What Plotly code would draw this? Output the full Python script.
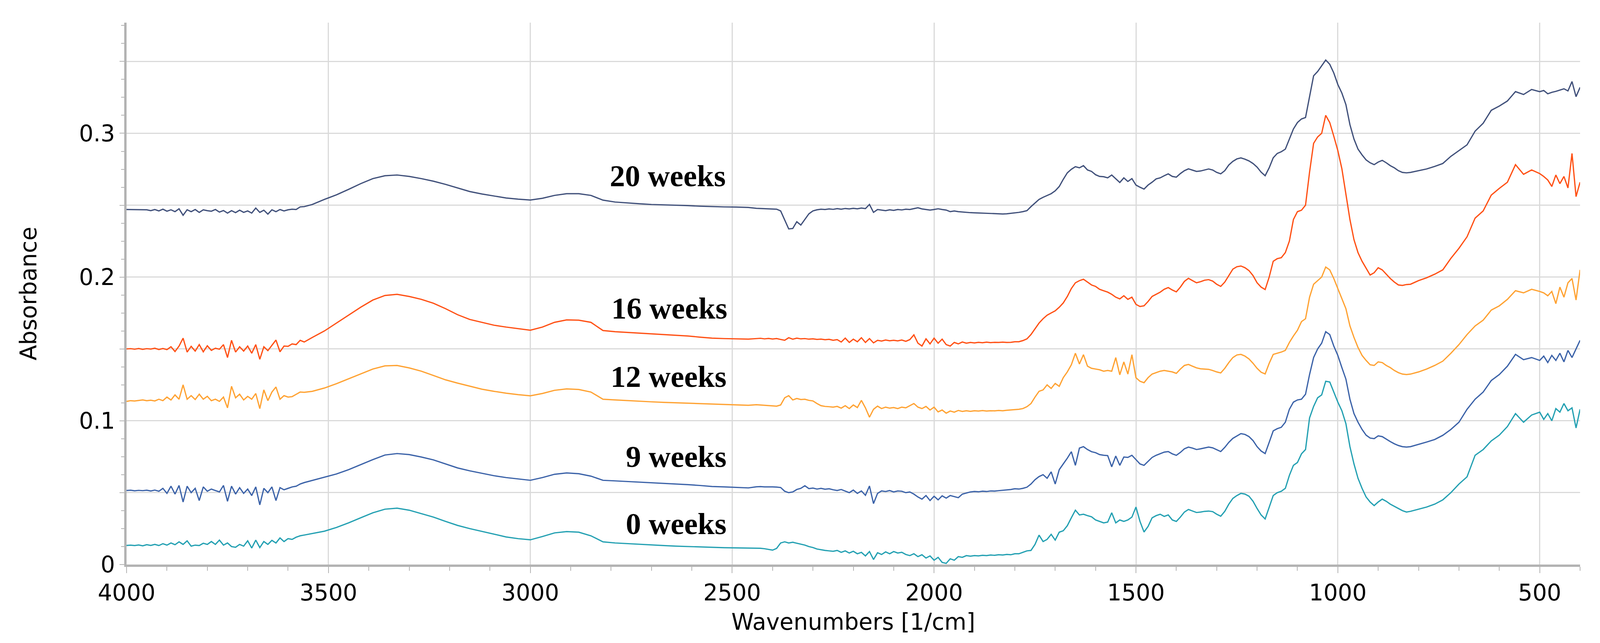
import plotly.graph_objects as go

# ---------------- wavenumber sampling grid [1/cm] ----------------
WN_A = [4000, 3990, 3980, 3970, 3960, 3950, 3940, 3930, 3920, 3910,
        3900, 3890, 3880, 3870, 3860, 3850, 3840, 3830, 3820, 3810,
        3800, 3790, 3780, 3770, 3760, 3750, 3740, 3730, 3720, 3710,
        3700, 3690, 3680, 3670, 3660, 3650, 3640, 3630, 3620, 3610,
        3600, 3590, 3580, 3570, 3560]
WN_B = [3540, 3510, 3480, 3450, 3420, 3390, 3360, 3330, 3300, 3270,
        3240, 3210, 3180, 3150, 3120, 3090, 3060, 3030, 3000, 2970,
        2940, 2910, 2880, 2850, 2820, 2790, 2760, 2730, 2700, 2670,
        2640, 2610, 2580, 2550, 2520, 2490, 2460]
WN_C = [2440, 2430, 2420, 2410, 2400, 2390, 2380, 2370, 2360, 2350,
        2340, 2330, 2320, 2310, 2300, 2290, 2280, 2270, 2260, 2250,
        2240, 2230, 2220, 2210, 2200, 2190, 2180, 2170, 2160, 2150,
        2140, 2130, 2120, 2110, 2100, 2090, 2080, 2070, 2060, 2050,
        2040, 2030, 2020, 2010, 2000, 1990, 1980, 1970, 1960, 1950,
        1940, 1930, 1920, 1910, 1900, 1890, 1880, 1870, 1860, 1850,
        1840, 1830, 1820, 1810, 1800]
WN_D = [1790, 1780, 1770, 1760, 1750, 1740, 1730, 1720, 1710, 1700,
        1690, 1680, 1670, 1660, 1650, 1640, 1630, 1620, 1610, 1600,
        1590, 1580, 1570, 1560, 1550, 1540, 1530, 1520, 1510, 1500,
        1490, 1480, 1470, 1460, 1450, 1440, 1430, 1420, 1410, 1400,
        1390, 1380, 1370, 1360, 1350, 1340, 1330, 1320, 1310, 1300,
        1290, 1280, 1270, 1260, 1250, 1240, 1230, 1220, 1210, 1200,
        1190, 1180, 1170, 1160, 1150, 1140, 1130, 1120, 1110, 1100]
WN_E = [1090, 1080, 1070, 1060, 1050, 1040, 1030, 1020, 1010, 1000,
        990, 980, 970, 960, 950, 940, 930, 920, 910, 900,
        890, 880, 870, 860, 850, 840, 830, 820,
        800, 780, 760, 740, 720, 700, 680, 660, 640, 620, 600, 580, 560, 540, 520,
        500, 490, 480, 470, 460, 450, 440, 430, 420, 410, 400]
WAVENUMBERS = WN_A + WN_B + WN_C + WN_D + WN_E

# ---------------- absorbance series ----------------
WEEKS_20 = [
    # 4000-3560
    .2470, .2470, .2470, .2470, .2470, .2468, .2462, .2470, .2460, .2472,
    .2458, .2468, .2455, .2475, .2430, .2468, .2455, .2470, .2450, .2468,
    .2462, .2458, .2470, .2452, .2463, .2445, .2462, .2448, .2465, .2450,
    .2460, .2445, .2480, .2450, .2465, .2438, .2468, .2455, .2470, .2460,
    .2468, .2472, .2470, .2488, .2490,
    # 3540-2460
    .2505, .2540, .2572, .2610, .2650, .2685, .2705, .2710, .2700, .2685,
    .2667, .2645, .2620, .2595, .2578, .2565, .2550, .2542, .2536, .2548,
    .2568, .2580, .2580, .2568, .2535, .2522, .2515, .2510, .2505, .2503,
    .2500, .2497, .2493, .2490, .2488, .2487, .2484,
    # 2440-1800
    .2478, .2477, .2476, .2476, .2475, .2472, .2460, .2395, .2335, .2338,
    .2385, .2362, .2400, .2440, .2460, .2468, .2472, .2470, .2474, .2471,
    .2476, .2472, .2477, .2474, .2478, .2475, .2480, .2476, .2505, .2450,
    .2470, .2466, .2462, .2468, .2464, .2470, .2467, .2472, .2470, .2476,
    .2482, .2474, .2470, .2466, .2470, .2475, .2470, .2466, .2455, .2460,
    .2455, .2452, .2450, .2448, .2447, .2446, .2444, .2443, .2442, .2440,
    .2440, .2439, .2440, .2443, .2448,
    # 1790-1100
    .2450, .2455, .2462, .2490, .2515, .2540, .2555, .2568, .2580, .2600,
    .2630, .2680, .2725, .2750, .2768, .2760, .2775, .2745, .2735, .2712,
    .2700, .2698, .2690, .2710, .2685, .2658, .2690, .2665, .2685, .2640,
    .2625, .2612, .2640, .2660, .2683, .2690, .2705, .2718, .2700, .2695,
    .2720, .2740, .2753, .2745, .2735, .2738, .2745, .2752, .2745, .2728,
    .2718, .2740, .2780, .2805, .2822, .2829, .2820, .2808, .2790, .2765,
    .2730, .2705, .2760, .2830, .2860, .2872, .2890, .2960, .3030, .3075,
    # 1090-400
    .3100, .3110, .3250, .3400, .3430, .3470, .3510, .3480, .3420, .3340,
    .3280, .3200, .3060, .2960, .2890, .2850, .2815, .2795, .2782, .2800,
    .2812, .2795, .2775, .2760, .2740, .2728, .2725, .2728,
    .2740, .2752, .2770, .2790, .2840, .2880, .2920, .3015, .3070, .3160,
    .3190, .3225, .3290, .3270, .3305,
    .3290, .3298, .3275, .3285, .3292, .3300, .3310, .3295, .3360, .3255, .3320,
]

WEEKS_16 = [
    # 4000-3560
    .1500, .1502, .1498, .1503, .1497, .1502, .1499, .1505, .1496, .1503,
    .1495, .1515, .1482, .1520, .1575, .1478, .1518, .1485, .1530, .1480,
    .1522, .1490, .1505, .1498, .1530, .1440, .1560, .1478, .1515, .1485,
    .1520, .1470, .1530, .1428, .1515, .1488, .1525, .1562, .1480, .1520,
    .1518, .1535, .1530, .1560, .1548,
    # 3540-2460
    .1580, .1625, .1680, .1735, .1790, .1840, .1872, .1880, .1865, .1845,
    .1818, .1780, .1738, .1705, .1685, .1665, .1652, .1640, .1630, .1652,
    .1685, .1702, .1700, .1685, .1628, .1620, .1615, .1608, .1605, .1600,
    .1595, .1590, .1582, .1575, .1572, .1570, .1568,
    # 2440-1800
    .1572, .1574, .1570, .1573, .1569, .1572, .1566, .1560, .1578, .1568,
    .1575, .1570, .1572, .1568, .1570, .1566, .1568, .1564, .1567, .1560,
    .1565, .1548, .1575, .1545, .1568, .1550, .1578, .1545, .1572, .1542,
    .1560, .1555, .1562, .1557, .1560, .1556, .1562, .1553, .1565, .1598,
    .1540, .1520, .1570, .1535, .1575, .1540, .1568, .1530, .1520, .1545,
    .1535, .1548, .1540, .1545, .1542, .1546, .1543, .1547, .1544, .1546,
    .1545, .1547, .1545, .1546, .1550,
    # 1790-1100
    .1550, .1558, .1570, .1600, .1640, .1680, .1710, .1735, .1750, .1765,
    .1790, .1820, .1865, .1920, .1960, .1975, .1985, .1965, .1945, .1935,
    .1915, .1905, .1895, .1880, .1860, .1848, .1870, .1845, .1860, .1810,
    .1795, .1800, .1830, .1865, .1880, .1895, .1915, .1927, .1910, .1897,
    .1930, .1970, .1991, .1975, .1960, .1968, .1978, .1982, .1972, .1950,
    .1935, .1965, .2010, .2055, .2072, .2077, .2065, .2045, .2010, .1960,
    .1930, .1913, .2000, .2110, .2128, .2135, .2170, .2250, .2400, .2455,
    # 1090-400
    .2465, .2500, .2730, .2930, .2975, .3000, .3125, .3075, .2980, .2880,
    .2754, .2580, .2400, .2260, .2170, .2110, .2060, .2014, .2030, .2065,
    .2050, .2020, .1990, .1965, .1945, .1942, .1948, .1950,
    .1975, .1995, .2020, .2050, .2130, .2200, .2280, .2410, .2460, .2570,
    .2617, .2660, .2782, .2715, .2745,
    .2720, .2700, .2675, .2630, .2710, .2650, .2700, .2620, .2860, .2560, .2660,
]

WEEKS_12 = [
    # 4000-3560
    .1135, .1140, .1138, .1142, .1145, .1140, .1143, .1138, .1150, .1140,
    .1165, .1145, .1180, .1150, .1250, .1150, .1175, .1148, .1185, .1150,
    .1170, .1140, .1150, .1135, .1165, .1090, .1240, .1160, .1185, .1145,
    .1170, .1150, .1190, .1085, .1215, .1140, .1200, .1235, .1150, .1175,
    .1165, .1168, .1185, .1200, .1198,
    # 3540-2460
    .1205, .1228, .1258, .1292, .1325, .1360, .1382, .1385, .1368, .1345,
    .1315, .1285, .1262, .1240, .1220, .1205, .1192, .1182, .1174, .1190,
    .1212, .1222, .1218, .1200, .1150, .1145, .1140, .1136, .1132, .1128,
    .1125, .1122, .1119, .1116, .1113, .1110, .1108,
    # 2440-1800
    .1112, .1110, .1108, .1106, .1105, .1102, .1110, .1160, .1175, .1145,
    .1155, .1148, .1150, .1142, .1138, .1120, .1105, .1100, .1098, .1095,
    .1100, .1088, .1105, .1085, .1110, .1092, .1142, .1090, .1025, .1080,
    .1102, .1085, .1095, .1088, .1092, .1085, .1095, .1090, .1105, .1120,
    .1095, .1085, .1100, .1075, .1095, .1062, .1075, .1053, .1068, .1060,
    .1072, .1065, .1070, .1066, .1070, .1068, .1071, .1068, .1070, .1069,
    .1072, .1070, .1073, .1075, .1078,
    # 1790-1100
    .1080, .1085, .1098, .1120, .1165, .1205, .1215, .1250, .1225, .1260,
    .1240, .1300, .1340, .1390, .1470, .1395, .1460, .1380, .1365, .1360,
    .1355, .1345, .1350, .1345, .1440, .1320, .1410, .1325, .1460, .1300,
    .1275, .1265, .1300, .1325, .1335, .1345, .1350, .1345, .1340, .1330,
    .1360, .1385, .1392, .1380, .1368, .1362, .1360, .1358, .1350, .1340,
    .1333, .1365, .1405, .1440, .1458, .1462, .1450, .1430, .1400, .1365,
    .1338, .1326, .1400, .1462, .1470, .1478, .1490, .1545, .1590, .1630,
    # 1090-400
    .1690, .1710, .1860, .1950, .1975, .2000, .2070, .2050, .1990, .1920,
    .1850, .1780, .1660, .1580, .1510, .1455, .1420, .1390, .1385, .1410,
    .1405, .1385, .1370, .1350, .1335, .1325, .1322, .1325,
    .1340, .1360, .1385, .1415, .1470, .1530, .1600, .1660, .1700, .1770,
    .1800, .1845, .1905, .1890, .1915,
    .1900, .1890, .1870, .1900, .1815, .1930, .1860, .1960, .1990, .1840, .2050,
]

WEEKS_9 = [
    # 4000-3560
    .0515, .0517, .0513, .0516, .0514, .0517, .0512, .0518, .0510, .0530,
    .0495, .0545, .0490, .0550, .0435, .0545, .0500, .0530, .0445, .0540,
    .0510, .0525, .0515, .0505, .0550, .0440, .0545, .0490, .0535, .0495,
    .0525, .0480, .0540, .0415, .0530, .0500, .0540, .0445, .0535, .0520,
    .0530, .0540, .0545, .0560, .0570,
    # 3540-2460
    .0585, .0608, .0630, .0660, .0695, .0730, .0762, .0772, .0765, .0748,
    .0728, .0700, .0672, .0652, .0635, .0618, .0605, .0595, .0586, .0605,
    .0628, .0637, .0632, .0615, .0586, .0582, .0578, .0574, .0570, .0566,
    .0562, .0556, .0550, .0543, .0540, .0536, .0533,
    # 2440-1800
    .0541, .0542, .0540, .0541, .0540, .0539, .0536, .0510, .0500, .0505,
    .0522, .0530, .0548, .0528, .0532, .0525, .0530, .0524, .0527, .0520,
    .0515, .0522, .0510, .0500, .0518, .0495, .0512, .0482, .0546, .0424,
    .0495, .0512, .0508, .0515, .0505, .0512, .0510, .0500, .0505, .0490,
    .0470, .0455, .0480, .0445, .0475, .0450, .0478, .0462, .0480, .0472,
    .0465, .0490, .0498, .0505, .0508, .0506, .0510, .0508, .0512, .0511,
    .0514, .0516, .0518, .0522, .0527,
    # 1790-1100
    .0525, .0530, .0538, .0560, .0590, .0612, .0625, .0600, .0645, .0560,
    .0660, .0700, .0740, .0785, .0690, .0810, .0820, .0800, .0785, .0778,
    .0765, .0760, .0758, .0680, .0755, .0690, .0748, .0745, .0760, .0730,
    .0700, .0690, .0718, .0745, .0760, .0770, .0782, .0786, .0770, .0760,
    .0780, .0805, .0817, .0810, .0800, .0805, .0812, .0817, .0812, .0798,
    .0786, .0815, .0850, .0878, .0895, .0911, .0905, .0890, .0862, .0820,
    .0790, .0772, .0850, .0930, .0945, .0955, .0990, .1080, .1130, .1145,
    # 1090-400
    .1150, .1185, .1322, .1440, .1500, .1540, .1620, .1600, .1520, .1455,
    .1370, .1290, .1150, .1050, .0990, .0940, .0900, .0880, .0876, .0895,
    .0890, .0872, .0855, .0840, .0828, .0820, .0817, .0820,
    .0835, .0852, .0870, .0899, .0940, .0990, .1080, .1150, .1200, .1280,
    .1322, .1380, .1462, .1425, .1440,
    .1420, .1450, .1405, .1455, .1420, .1470, .1410, .1490, .1440, .1500, .1560,
]

WEEKS_0 = [
    # 4000-3560
    .0133, .0135, .0132, .0136, .0130, .0138, .0133, .0140, .0132, .0145,
    .0135, .0150, .0138, .0158, .0140, .0165, .0128, .0135, .0132, .0148,
    .0140, .0160, .0140, .0170, .0135, .0150, .0125, .0120, .0140, .0128,
    .0165, .0115, .0170, .0118, .0160, .0140, .0168, .0150, .0185, .0160,
    .0180, .0175, .0190, .0200, .0205,
    # 3540-2460
    .0215, .0232, .0258, .0290, .0325, .0360, .0385, .0392, .0378, .0355,
    .0330, .0300, .0272, .0250, .0230, .0210, .0192, .0180, .0172, .0195,
    .0220, .0229, .0225, .0200, .0158, .0150, .0145, .0140, .0136, .0132,
    .0128, .0125, .0122, .0119, .0117, .0116, .0115,
    # 2440-1800
    .0115, .0113, .0110, .0105, .0100, .0112, .0150, .0158, .0150, .0155,
    .0148, .0140, .0135, .0125, .0118, .0108, .0102, .0098, .0095, .0092,
    .0098, .0085, .0095, .0080, .0092, .0075, .0085, .0060, .0090, .0035,
    .0082, .0070, .0088, .0075, .0090, .0080, .0085, .0070, .0062, .0075,
    .0055, .0068, .0045, .0060, .0030, .0050, .0015, .0008, .0040, .0030,
    .0055, .0050, .0062, .0058, .0062, .0060, .0064, .0062, .0066, .0064,
    .0068, .0066, .0070, .0068, .0075,
    # 1790-1100
    .0075, .0085, .0095, .0098, .0140, .0205, .0160, .0175, .0210, .0170,
    .0225, .0235, .0270, .0325, .0378, .0345, .0350, .0340, .0332, .0310,
    .0300, .0290, .0295, .0360, .0290, .0310, .0300, .0310, .0330, .0400,
    .0300, .0226, .0265, .0325, .0340, .0350, .0335, .0345, .0310, .0300,
    .0330, .0365, .0383, .0372, .0362, .0365, .0370, .0372, .0368, .0350,
    .0336, .0370, .0420, .0460, .0480, .0495, .0490, .0475, .0440, .0390,
    .0345, .0317, .0400, .0480, .0500, .0510, .0530, .0620, .0690, .0710,
    # 1090-400
    .0770, .0800, .1020, .1100, .1160, .1180, .1275, .1270, .1200, .1130,
    .1070, .0980, .0820, .0700, .0600, .0530, .0470, .0435, .0410, .0435,
    .0455, .0440, .0420, .0405, .0390, .0375, .0365, .0370,
    .0385, .0400, .0420, .0450, .0500, .0560, .0610, .0760, .0800, .0860,
    .0900, .0960, .1050, .0990, .1040,
    .1060, .1010, .1050, .1000, .1085, .1060, .1120, .1070, .1090, .0950, .1080,
]

SERIES_NAMES = ["0 weeks", "9 weeks", "12 weeks", "16 weeks", "20 weeks"]
SERIES_VALUES = [WEEKS_0, WEEKS_9, WEEKS_12, WEEKS_16, WEEKS_20]
SERIES_COLORS = ["#23a0b2", "#3b62a8", "#ffa232", "#ff5014", "#40507a"]

# label anchor points (right edge of text, vertical middle)
LABEL_X = [2512, 2512, 2512, 2510, 2514]
LABEL_Y = [0.0285, 0.0752, 0.1308, 0.1783, 0.2703]

Y_TICKS = [0, 0.05, 0.1, 0.15, 0.2, 0.25, 0.3, 0.35]
Y_TICKTEXT = ["0", "", "0.1", "", "0.2", "", "0.3", ""]
X_TICKS = [4000, 3500, 3000, 2500, 2000, 1500, 1000, 500]
X_TICKTEXT = ["4000", "3500", "3000", "2500", "2000", "1500", "1000", "500"]

for v in SERIES_VALUES:
    assert len(v) == len(WAVENUMBERS), (len(v), len(WAVENUMBERS))

AXIS_FONT = "DejaVu Sans, Verdana, sans-serif"
AXIS_SIZE = 58

fig = go.Figure()
for name, vals, col in zip(SERIES_NAMES, SERIES_VALUES, SERIES_COLORS):
    fig.add_trace(go.Scatter(x=WAVENUMBERS, y=vals, mode="lines", name=name,
                             line=dict(color=col, width=3.2)))

for name, lx, ly in zip(SERIES_NAMES, LABEL_X, LABEL_Y):
    fig.add_annotation(x=lx, y=ly, xref="x", yref="y", text=name, showarrow=False,
                       xanchor="right", yanchor="middle",
                       font=dict(family="Liberation Serif, Times New Roman, serif",
                                 size=78, color="#000000", weight="bold"))

fig.update_layout(
    autosize=True,
    margin=dict(l=324, r=51, t=58, b=201),
    paper_bgcolor="white", plot_bgcolor="white",
    showlegend=False,
    font=dict(family=AXIS_FONT, size=AXIS_SIZE, color="#000000"),
)
fig.update_xaxes(
    range=[4000, 400], tickmode="array", tickvals=X_TICKS, ticktext=X_TICKTEXT,
    showline=True, linecolor="#b3b3b3", linewidth=6,
    showgrid=True, gridcolor="#dadada", gridwidth=3, zeroline=False,
    ticks="outside", ticklen=16, tickwidth=2, tickcolor="#b3b3b3",
    minor=dict(tickmode="linear", tick0=0, dtick=100, ticks="outside", ticklen=10,
               tickwidth=2, tickcolor="#b3b3b3", showgrid=False),
    tickfont=dict(family=AXIS_FONT, size=AXIS_SIZE),
    title=dict(text="Wavenumbers [1/cm]", font=dict(family=AXIS_FONT, size=AXIS_SIZE), standoff=24),
)
fig.update_yaxes(
    range=[0, 0.377], tickmode="array", tickvals=Y_TICKS, ticktext=Y_TICKTEXT,
    showline=True, linecolor="#b3b3b3", linewidth=6,
    showgrid=True, gridcolor="#dadada", gridwidth=3, zeroline=False,
    ticks="outside", ticklen=12, tickwidth=2, tickcolor="#b3b3b3",
    minor=dict(tickmode="linear", tick0=0, dtick=0.0125, ticks="outside", ticklen=8,
               tickwidth=2, tickcolor="#b3b3b3", showgrid=False),
    tickfont=dict(family=AXIS_FONT, size=AXIS_SIZE),
    title=dict(text="Absorbance", font=dict(family=AXIS_FONT, size=AXIS_SIZE), standoff=92),
)

POST = ("document.documentElement.style.margin='0';"
        "document.body.style.margin='0';"
        "document.documentElement.style.overflow='hidden';"
        "document.body.style.overflow='hidden';"
        "var gd=document.getElementById('{plot_id}');"
        "gd.style.width='100vw';gd.style.height='100vh';"
        "Plotly.Plots.resize(gd);")

fig.write_html("out.html", default_width="100vw", default_height="100vh",
               config={"responsive": True, "displayModeBar": False},
               post_script=POST)
